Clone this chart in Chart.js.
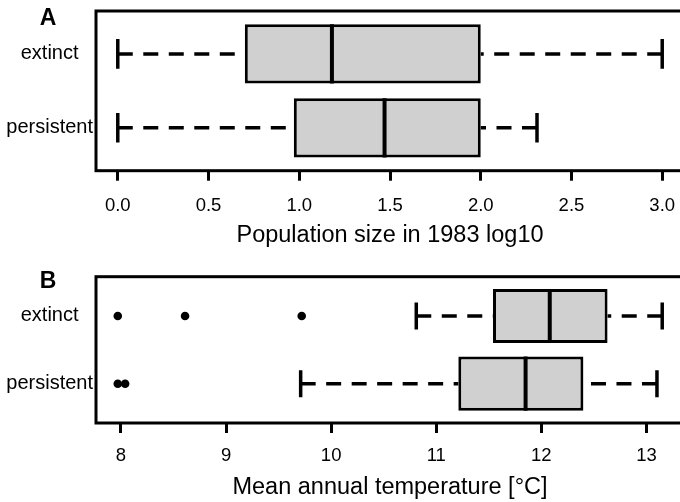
<!DOCTYPE html>
<html>
<head>
<meta charset="utf-8">
<script src="https://cdn.jsdelivr.net/npm/chart.js@4.4.1/dist/chart.umd.min.js"></script>
<style>
  html, body { margin: 0; padding: 0; background: #fff; overflow: hidden; }
  .panel { position: absolute; left: 0; width: 700px; }
</style>
</head>
<body>
<div class="panel" style="top:0;height:250px"><canvas id="graficoA" width="700" height="250"></canvas></div>
<div class="panel" style="top:250px;height:252px"><canvas id="graficoB" width="700" height="252"></canvas></div>
<script>
const groups = ['extinct', 'persistent'];

// A: population size in 1983 (log10)
const popLow = [0.0, 0.0];
const popQ1 = [0.70, 0.97];
const popMed = [1.18, 1.47];
const popQ3 = [2.0, 2.0];
const popHigh = [3.0, 2.31];
const popOut = [[], []];
const popTicks = [0, 0.5, 1, 1.5, 2, 2.5, 3];

// B: mean annual temperature
const tempLow = [10.81, 9.71];
const tempQ1 = [11.54, 11.21];
const tempMed = [12.08, 11.85];
const tempQ3 = [12.63, 12.40];
const tempHigh = [13.15, 13.10];
const tempOut = [[7.97, 8.61, 9.72], [7.97, 8.04]];
const tempTicks = [8, 9, 10, 11, 12, 13];

const FONT = '"Liberation Sans", Arial, Helvetica, sans-serif';

// rango como en R: datos +/- 4%
function rangoR(lista) {
  const todos = lista.flat(2);
  const lo = Math.min(...todos), hi = Math.max(...todos);
  const pad = (hi - lo) * 0.04;
  return [lo - pad, hi + pad];
}

// mitad de altura en pixeles para una fraccion de la unidad del eje y
function alto(frac) {
  return ctx => {
    const y = ctx.chart.scales.y;
    return Math.abs(y.getPixelForValue(1 + frac) - y.getPixelForValue(1));
  };
}

function crearBoxplot(id, cfg) {
  const [xmin, xmax] = rangoR([cfg.low, cfg.high, cfg.out]);
  const pos = groups.map((g, i) => i + 1);

  const datasets = [];
  datasets.push({
    type: 'bar',
    data: groups.map((g, i) => ({ y: pos[i], x: [cfg.q1[i], cfg.q3[i]] })),
    backgroundColor: '#d0d0d0',
    borderColor: '#000',
    borderWidth: 3,
    borderSkipped: false,
    barPercentage: 0.8,
    categoryPercentage: 1,
    order: 5
  });
  groups.forEach((g, i) => {
    [[cfg.low[i], cfg.q1[i]], [cfg.high[i], cfg.q3[i]]].forEach(par => {
      datasets.push({
        type: 'line',
        data: [{ x: par[0], y: pos[i] }, { x: par[1], y: pos[i] }],
        borderColor: '#000',
        borderWidth: 3.5,
        borderDash: [15, 10.5],
        pointRadius: 0,
        fill: false,
        order: 4
      });
    });
  });
  datasets.push({
    type: 'scatter',
    data: groups.flatMap((g, i) => [{ x: cfg.low[i], y: pos[i] }, { x: cfg.high[i], y: pos[i] }]),
    pointStyle: 'line',
    pointRotation: 90,
    pointRadius: alto(0.2),
    pointBorderWidth: 3.5,
    pointBorderColor: '#000',
    order: 2
  });
  datasets.push({
    type: 'scatter',
    data: groups.map((g, i) => ({ x: cfg.med[i], y: pos[i] })),
    pointStyle: 'line',
    pointRotation: 90,
    pointRadius: alto(0.4),
    pointBorderWidth: 4,
    pointBorderColor: '#000',
    order: 1
  });
  datasets.push({
    type: 'scatter',
    data: groups.flatMap((g, i) => cfg.out[i].map(v => ({ x: v, y: pos[i] }))),
    pointStyle: 'circle',
    pointRadius: 4.3,
    pointBackgroundColor: '#000',
    pointBorderWidth: 0,
    order: 0
  });

  const marco = {
    id: 'marco',
    afterDraw(chart) {
      const { ctx, chartArea: a } = chart;
      ctx.save();
      ctx.strokeStyle = '#000';
      ctx.lineWidth = 3;
      ctx.strokeRect(a.left, a.top, a.right - a.left, a.bottom - a.top);
      ctx.font = 'bold 23px ' + FONT;
      ctx.fillStyle = '#000';
      ctx.textAlign = 'center';
      ctx.textBaseline = 'middle';
      ctx.fillText(cfg.letra, 48, cfg.letraY);
      ctx.restore();
    }
  };

  new Chart(document.getElementById(id), {
    data: { datasets },
    plugins: [marco],
    options: {
      indexAxis: 'y',
      responsive: false,
      animation: false,
      devicePixelRatio: 1,
      events: [],
      layout: { padding: { top: cfg.top, right: 16, left: 0, bottom: 0 } },
      plugins: { legend: { display: false }, tooltip: { enabled: false } },
      scales: {
        x: {
          type: 'linear',
          min: xmin,
          max: xmax,
          afterBuildTicks: s => { s.ticks = cfg.ticks.map(v => ({ value: v })); },
          afterFit: s => { s.height = cfg.xh; s.paddingLeft = 0; s.paddingRight = 0; },
          ticks: {
            callback: cfg.fmt,
            color: '#000',
            font: { family: FONT, size: 18.5 },
            padding: cfg.tickPad,
            autoSkip: false,
            maxRotation: 0
          },
          grid: { display: true, drawOnChartArea: false, drawTicks: true, tickLength: 10, tickWidth: 3, tickColor: '#000' },
          border: { display: false },
          title: {
            display: true,
            text: cfg.titulo,
            color: '#000',
            font: { family: FONT, size: 23.5 },
            padding: { top: 0, bottom: cfg.titlePad }
          }
        },
        y: {
          type: 'linear',
          min: 0.42,
          max: 2.58,
          reverse: true,
          offset: false,
          afterBuildTicks: s => { s.ticks = pos.map(v => ({ value: v })); },
          afterFit: s => { s.width = 96; s.paddingTop = 0; s.paddingBottom = 0; },
          ticks: {
            callback: v => groups[v - 1],
            crossAlign: 'center',
            padding: 3,
            color: '#000',
            font: { family: FONT, size: 20 }
          },
          grid: { display: false, drawTicks: false, offset: false },
          border: { display: false }
        }
      }
    }
  });
}

crearBoxplot('graficoA', {
  low: popLow, q1: popQ1, med: popMed, q3: popQ3, high: popHigh, out: popOut,
  ticks: popTicks, fmt: v => v.toFixed(1),
  titulo: 'Population size in 1983 log10',
  letra: 'A', letraY: 18.5,
  top: 11, xh: 79.3, tickPad: 14, titlePad: 0,
});

crearBoxplot('graficoB', {
  low: tempLow, q1: tempQ1, med: tempMed, q3: tempQ3, high: tempHigh, out: tempOut,
  ticks: tempTicks, fmt: v => String(v),
  titulo: 'Mean annual temperature [°C]',
  letra: 'B', letraY: 31.7,
  top: 26.7, xh: 79, tickPad: 11.5, titlePad: 0
});
</script>
</body>
</html>
